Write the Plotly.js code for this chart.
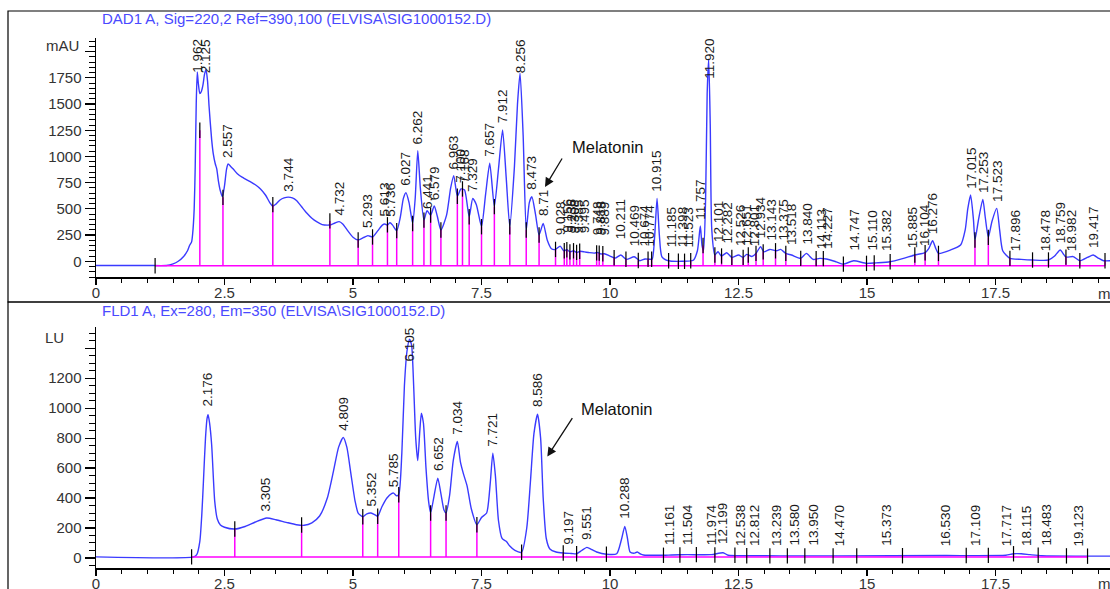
<!DOCTYPE html>
<html><head><meta charset="utf-8">
<script src="https://cdn.plot.ly/plotly-3.0.1.min.js"></script>
<style>html,body{margin:0;padding:0;background:#fff;}#chart{width:1110px;height:589px;}</style>
</head><body><div id="chart"></div>
<script>
// ---------- DAD1 A (top) signal, mAU ----------
const dadTime = [0,1.0,1.37,1.5,1.6,1.7,1.78,1.82,1.86,1.88,1.91,1.93,1.95,1.97,1.99,2.02,2.05,2.08,2.11,2.14,2.17,2.20,2.25,2.28,2.32,2.35,2.38,2.42,2.46,2.50,2.54,2.57,2.62,2.67,2.75,2.85,3.00,3.10,3.20,3.30,3.38,3.44,3.50,3.58,3.66,3.74,3.82,3.90,4.00,4.10,4.20,4.30,4.40,4.50,4.57,4.65,4.73,4.80,4.90,5.00,5.10,5.20,5.29,5.38,5.48,5.57,5.62,5.67,5.72,5.77,5.85,5.92,5.98,6.03,6.09,6.16,6.21,6.26,6.31,6.38,6.44,6.51,6.58,6.64,6.71,6.82,6.90,6.96,7.03,7.10,7.17,7.26,7.33,7.40,7.50,7.58,7.66,7.75,7.83,7.91,7.98,8.05,8.14,8.20,8.25,8.31,8.37,8.43,8.48,8.55,8.62,8.70,8.78,8.86,8.94,9.03,9.10,9.16,9.22,9.29,9.35,9.42,9.50,9.60,9.70,9.75,9.82,9.89,10.00,10.10,10.21,10.32,10.47,10.58,10.68,10.76,10.82,10.87,10.915,10.96,11.01,11.14,11.40,11.62,11.70,11.757,11.79,11.82,11.86,11.89,11.92,11.95,11.98,12.04,12.10,12.17,12.27,12.37,12.50,12.59,12.66,12.76,12.84,12.93,12.99,13.11,13.24,13.32,13.42,13.53,13.71,13.82,13.95,14.08,14.21,14.40,14.54,14.74,14.99,15.18,15.45,15.71,15.93,16.13,16.20,16.276,16.34,16.39,16.62,16.82,16.91,16.96,17.015,17.07,17.10,17.17,17.253,17.30,17.36,17.43,17.523,17.58,17.64,17.78,18.0,18.22,18.53,18.65,18.759,18.87,19.01,19.14,19.30,19.40,19.50,19.60,19.73];
const dadSignal = [-40,-40,-40,-25,0,43,100,150,185,260,500,900,1500,1805,1700,1600,1620,1680,1780,1830,1720,1476,1160,1030,930,880,770,670,616,720,880,928,905,880,835,800,760,730,690,630,560,525,545,585,605,612,605,580,520,460,410,375,350,345,348,365,378,355,290,230,203,225,245,232,290,345,355,345,368,345,292,420,600,654,560,361,600,1056,700,393,482,440,527,430,298,440,700,817,620,690,680,425,600,540,330,640,935,521,880,1253,800,330,900,1500,1795,1200,298,560,616,450,250,361,200,120,113,145,100,110,90,100,85,95,90,82,78,85,70,72,50,30,60,18,43,5,22,20,20,250,600,250,43,5,0,10,100,336,150,100,600,1600,1930,1300,300,60,91,50,82,37,60,37,66,45,75,140,90,113,100,113,75,60,28,75,18,28,22,-5,-27,5,-20,-15,-5,28,60,82,120,197,120,75,107,155,300,500,632,400,203,400,591,420,228,380,505,300,100,28,18,12,12,50,107,40,45,5,40,60,30,5,5];
const dadPeakLabels = ['1.962','2.125','2.557','3.744','4.732','5.293','5.613','5.736','6.027','6.262','6.441','6.579','6.963','7.100','7.168','7.329','7.657','7.912','8.256','8.473','8.71','9.028','9.156','9.236','9.308','9.385','9.495','9.748','9.818','9.889','10.211','10.469','10.674','10.774','10.915','11.185','11.398','11.523','11.757','11.920','12.101','12.282','12.526','12.651','12.801','12.934','13.143','13.375','13.518','13.840','14.113','14.227','14.747','15.110','15.382','15.885','16.104','16.276','17.015','17.253','17.523','17.896','18.478','18.759','18.982','19.417'];
const dadLabelBase = [1830,1880,960,640,410,290,395,395,690,1085,470,555,845,720,720,630,965,1285,1820,650,400,220,240,240,240,240,240,220,220,220,180,110,110,110,630,105,105,105,370,1960,150,140,120,120,120,190,170,170,130,130,90,90,70,70,70,95,115,230,665,625,540,70,70,140,70,95];
const dadCutTimes = [1.15,2.02,2.47,3.44,4.55,5.10,5.38,5.67,5.85,6.16,6.38,6.51,6.71,7.03,7.13,7.26,7.50,7.75,8.05,8.37,8.62,8.94,9.11,9.16,9.22,9.29,9.35,9.41,9.74,9.79,9.86,10.08,10.31,10.55,10.74,10.81,11.14,11.33,11.45,11.57,11.81,12.04,12.17,12.37,12.59,12.69,12.84,12.98,13.22,13.42,13.71,14.01,14.15,14.54,14.99,15.14,15.45,15.93,16.13,16.39,17.10,17.36,17.78,18.22,18.53,18.87,19.14,19.63];
const dadCutTops = [-42,1250,610,540,385,203,232,348,292,361,393,440,298,620,690,425,330,521,330,298,250,113,100,110,90,100,85,95,80,78,72,33,20,8,20,20,5,0,0,5,150,60,50,37,37,60,75,90,100,75,28,25,25,-27,-20,-15,-5,60,82,75,203,228,28,12,12,40,5,5];
const dadBaseline = -42;

// ---------- FLD1 A (bottom) signal, LU ----------
const fldTime = [0,1.9,1.96,2.02,2.06,2.09,2.13,2.16,2.18,2.21,2.25,2.31,2.36,2.42,2.50,2.70,2.90,3.10,3.32,3.50,3.70,3.90,4.05,4.20,4.35,4.50,4.62,4.72,4.81,4.88,4.96,5.04,5.10,5.19,5.27,5.35,5.42,5.48,5.56,5.66,5.75,5.79,5.85,5.89,5.95,6.00,6.05,6.10,6.14,6.18,6.22,6.26,6.30,6.33,6.37,6.42,6.47,6.51,6.58,6.65,6.71,6.77,6.81,6.88,6.95,7.03,7.09,7.15,7.22,7.30,7.41,7.50,7.60,7.67,7.72,7.77,7.83,7.90,7.98,8.05,8.15,8.28,8.38,8.45,8.52,8.59,8.65,8.70,8.76,8.83,8.95,9.09,9.25,9.35,9.45,9.55,9.65,9.74,9.93,10.13,10.22,10.288,10.34,10.39,10.47,10.53,10.60,10.65,11.04,11.20,11.50,11.97,12.20,12.30,12.72,13.30,14.50,16.50,17.70,17.85,18.00,18.17,18.40,19.29,19.73];
const fldSignal = [7,7,22,111,300,511,800,930,956,900,756,378,260,220,205,193,210,240,267,255,238,222,218,235,280,400,580,740,804,740,560,380,300,275,295,300,290,278,340,400,430,433,415,422,700,1150,1380,1460,1420,1150,800,650,850,967,900,600,380,300,420,533,430,320,300,420,650,778,640,560,480,330,222,270,300,500,700,550,250,130,111,80,50,38,200,500,830,960,800,400,130,60,40,33,30,28,50,71,55,40,25,28,120,211,130,40,32,40,25,20,18,20,22,22,35,18,15,14,14,16,18,28,28,22,15,12,12];
const fldPeakLabels = ['2.176','3.305','4.809','5.352','5.785','6.105','6.652','7.034','7.721','8.586','9.197','9.551','10.288','11.161','11.504','11.974','12.199','12.538','12.812','13.239','13.580','13.950','14.470','15.373','16.530','17.109','17.717','18.115','18.483','19.123'];
const fldLabelBase = [990,290,830,325,455,1490,560,800,722,990,67,100,244,65,65,65,70,60,60,60,60,60,60,60,60,60,60,60,60,60];
const fldCutTimes = [1.86,2.70,4.00,5.19,5.48,5.89,6.51,6.81,7.41,8.28,9.09,9.35,9.93,11.04,11.36,11.68,12.04,12.43,12.66,13.11,13.45,13.79,14.34,14.80,15.69,16.93,17.36,17.85,18.33,18.88,19.29];
const fldCutTops = [7,193,220,275,278,422,300,300,222,38,33,28,25,18,20,22,20,18,15,14,14,14,14,14,15,16,17,28,18,14,12];
const fldBaseline = 7;

const xTicks = [0,2.5,5,7.5,10,12.5,15,17.5];
const dadTickVals = [0,250,500,750,1000,1250,1500,1750,2000];
const fldTickVals = [0,200,400,600,800,1000,1200,1400];
const dadTitle = 'DAD1 A, Sig=220,2 Ref=390,100 (ELVISA\\SIG1000152.D)';
const fldTitle = 'FLD1 A, Ex=280, Em=350 (ELVISA\\SIG1000152.D)';
const melatoninDad = {time: 8.735, value: 709, textTime: 9.96, textValue: 1086};
const melatoninFld = {time: 8.78, value: 677, textTime: 10.13, textValue: 995};

// ---------- layout geometry ----------
const W = 1110, H = 589;
const M = {l: 96, r: 0, t: 38, b: 21};
const xRange = [0, 19.727];
const dadRange = [-150, 2130];
const fldRange = [-67, 1544];
const plotH = H - M.t - M.b;
const pxX = p => (p - M.l) / (W - M.l - M.r);
const pxY = p => (H - M.b - p) / plotH;

const FONT = 'Liberation Sans, Arial, sans-serif';
const BLUE = '#3a3aff';
const MAG = '#ff00ff';

function cutLines(times, tops, base) {
  const x = [], y = [];
  times.forEach((t, i) => { x.push(t, t, null); y.push(base, tops[i], null); });
  return {x, y};
}
const dadCuts = cutLines(dadCutTimes, dadCutTops, dadBaseline);
const fldCuts = cutLines(fldCutTimes, fldCutTops, fldBaseline);

const traces = [
  {x: dadTime, y: dadSignal, xaxis: 'x', yaxis: 'y', mode: 'lines', line: {color: BLUE, width: 1.4, shape: 'spline', smoothing: 0.6}, hoverinfo: 'skip'},
  {x: [dadCutTimes[0], dadCutTimes[dadCutTimes.length - 1]], y: [dadBaseline, dadBaseline], xaxis: 'x', yaxis: 'y', mode: 'lines', line: {color: MAG, width: 1.5}, hoverinfo: 'skip'},
  {x: dadCuts.x, y: dadCuts.y, xaxis: 'x', yaxis: 'y', mode: 'lines', line: {color: MAG, width: 1.5}, hoverinfo: 'skip'},
  {x: dadCutTimes, y: dadCutTops, xaxis: 'x', yaxis: 'y', mode: 'markers', marker: {symbol: 'line-ns', size: 11, line: {width: 1.2, color: '#000'}}, hoverinfo: 'skip'},
  {x: fldTime, y: fldSignal, xaxis: 'x2', yaxis: 'y2', mode: 'lines', line: {color: BLUE, width: 1.4, shape: 'spline', smoothing: 0.6}, hoverinfo: 'skip'},
  {x: [fldCutTimes[0], fldCutTimes[fldCutTimes.length - 1]], y: [fldBaseline, fldBaseline], xaxis: 'x2', yaxis: 'y2', mode: 'lines', line: {color: MAG, width: 1.5}, hoverinfo: 'skip'},
  {x: fldCuts.x, y: fldCuts.y, xaxis: 'x2', yaxis: 'y2', mode: 'lines', line: {color: MAG, width: 1.5}, hoverinfo: 'skip'},
  {x: fldCutTimes, y: fldCutTops, xaxis: 'x2', yaxis: 'y2', mode: 'markers', marker: {symbol: 'line-ns', size: 11, line: {width: 1.2, color: '#000'}}, hoverinfo: 'skip'}
];

const dadDomain = [pxY(277), 1];
const fldDomain = [0, pxY(326.7)];

function labelLen(s) { let n = 0; for (const c of s) n += (c === '.' ? 3.8 : 7.5); return n + 2; }
function peakAnnots(labels, bases, xref, yref, range, domain) {
  const pxPerUnit = (domain[1] - domain[0]) * plotH / (range[1] - range[0]);
  return labels.map((s, i) => {
    const room = (range[1] - bases[i]) * pxPerUnit;
    const clamp = labelLen(s) + 3 > room;
    return {xref, yref, x: parseFloat(s), y: clamp ? range[1] : bases[i], xanchor: 'center',
      yanchor: clamp ? 'top' : 'bottom', yshift: clamp ? 0 : 2, text: s, textangle: -90, showarrow: false,
      borderpad: 0, font: {family: FONT, size: 13.5, color: '#1a1a1a'}};
  });
}

const tickFont = {family: FONT, size: 15, color: '#333'};
const xAxisCommon = {range: xRange, tickmode: 'array', tickvals: xTicks, ticks: 'outside', ticklen: 6, tickwidth: 1.2, tickcolor: '#000',
  ticklabelstandoff: -5,
  minor: {tickmode: 'linear', tick0: 0, dtick: 0.5, ticks: 'outside', ticklen: 4, tickcolor: '#000', tickwidth: 1},
  showline: true, linecolor: '#000', linewidth: 1.5, showgrid: false, zeroline: false, tickfont: tickFont, fixedrange: true};
const yAxisCommon = {ticks: 'outside', ticklen: 10, tickwidth: 1.2, tickcolor: '#000', showline: true, linecolor: '#000', linewidth: 1.5,
  showgrid: false, zeroline: false, tickfont: tickFont, fixedrange: true};

const annotations = [
  ...peakAnnots(dadPeakLabels, dadLabelBase, 'x', 'y', dadRange, dadDomain),
  ...peakAnnots(fldPeakLabels, fldLabelBase, 'x2', 'y2', fldRange, fldDomain),
  {xref: 'paper', yref: 'paper', x: pxX(100), y: pxY(18), xanchor: 'left', yanchor: 'middle', text: dadTitle, showarrow: false, font: {family: FONT, size: 15, color: '#4a4aff'}},
  {xref: 'paper', yref: 'paper', x: pxX(100), y: pxY(310), xanchor: 'left', yanchor: 'middle', text: fldTitle, showarrow: false, font: {family: FONT, size: 15, color: '#4a4aff'}},
  {xref: 'paper', yref: 'paper', x: pxX(81), y: pxY(45), xanchor: 'right', yanchor: 'middle', text: 'mAU', showarrow: false, font: tickFont},
  {xref: 'paper', yref: 'paper', x: pxX(66), y: pxY(337), xanchor: 'right', yanchor: 'middle', text: 'LU', showarrow: false, font: tickFont},
  {xref: 'paper', yref: 'paper', x: pxX(1096), y: pxY(293), xanchor: 'left', yanchor: 'middle', text: 'min', showarrow: false, font: tickFont},
  {xref: 'paper', yref: 'paper', x: pxX(1096), y: pxY(583), xanchor: 'left', yanchor: 'middle', text: 'min', showarrow: false, font: tickFont},
  {xref: 'x', yref: 'y', x: melatoninDad.textTime, y: melatoninDad.textValue, text: 'Melatonin', showarrow: false, font: {family: FONT, size: 16.5, color: '#111'}},
  {xref: 'x', yref: 'y', x: melatoninDad.time, y: melatoninDad.value, text: '', showarrow: true, arrowhead: 2, arrowsize: 1.4, arrowwidth: 1.3, arrowcolor: '#111', ax: 18, ay: -30, standoff: 0},
  {xref: 'x2', yref: 'y2', x: melatoninFld.textTime, y: melatoninFld.textValue, text: 'Melatonin', showarrow: false, font: {family: FONT, size: 16.5, color: '#111'}},
  {xref: 'x2', yref: 'y2', x: melatoninFld.time, y: melatoninFld.value, text: '', showarrow: true, arrowhead: 2, arrowsize: 1.4, arrowwidth: 1.3, arrowcolor: '#111', ax: 26, ay: -40, standoff: 0}
];

const shapes = [
  {type: 'rect', xref: 'paper', yref: 'paper', x0: pxX(8), x1: pxX(1116), y0: pxY(302), y1: pxY(11), line: {color: '#000', width: 1.2}},
  {type: 'rect', xref: 'paper', yref: 'paper', x0: pxX(8), x1: pxX(1116), y0: pxY(600), y1: pxY(302), line: {color: '#000', width: 1.2}}
];

const layout = {
  width: W, height: H, margin: M, paper_bgcolor: '#fff', plot_bgcolor: '#fff', showlegend: false,
  font: {family: FONT},
  xaxis: Object.assign({}, xAxisCommon, {anchor: 'y', domain: [0, 1]}),
  xaxis2: Object.assign({}, xAxisCommon, {anchor: 'y2', domain: [0, 1]}),
  yaxis: Object.assign({}, yAxisCommon, {anchor: 'x', domain: dadDomain, range: dadRange, tickmode: 'array', tickvals: dadTickVals,
    ticktext: dadTickVals.map(v => v === 2000 ? '' : String(v)),
    minor: {tickmode: 'linear', tick0: 0, dtick: 50, ticks: 'outside', ticklen: 6, tickcolor: '#000', tickwidth: 1}}),
  yaxis2: Object.assign({}, yAxisCommon, {anchor: 'x2', domain: fldDomain, range: fldRange, tickmode: 'array', tickvals: fldTickVals,
    ticktext: fldTickVals.map(v => v === 1400 ? '' : String(v)),
    minor: {tickmode: 'linear', tick0: 0, dtick: 50, ticks: 'outside', ticklen: 6, tickcolor: '#000', tickwidth: 1}}),
  annotations, shapes
};

Plotly.newPlot('chart', traces, layout, {staticPlot: true, displayModeBar: false});
</script></body></html>
